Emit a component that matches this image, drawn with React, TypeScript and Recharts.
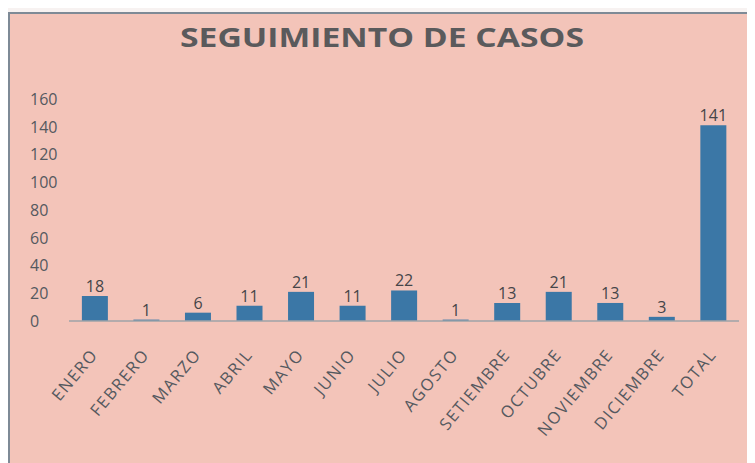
import React from 'react';
import { BarChart, Bar, XAxis, YAxis, LabelList } from 'recharts';

const categories = ['ENERO', 'FEBRERO', 'MARZO', 'ABRIL', 'MAYO', 'JUNIO', 'JULIO', 'AGOSTO', 'SETIEMBRE', 'OCTUBRE', 'NOVIEMBRE', 'DICIEMBRE', 'TOTAL'];
const casos = [18, 1, 6, 11, 21, 11, 22, 1, 13, 21, 13, 3, 141];
const yTicks = [0, 20, 40, 60, 80, 100, 120, 140, 160];
const title = 'SEGUIMIENTO DE CASOS';

const data = categories.map((mes, i) => ({ mes, casos: casos[i] }));

const FONT = '"Open Sans", sans-serif';
const TEXT = '#55595f';

const XTick = (props: any) => {
  const { x, y, payload } = props;
  return (
    <g transform={`translate(${x + 4},${y + 26})`}>
      <text x={0} y={0} transform="rotate(-50)" textAnchor="end" fill={TEXT} fontSize={16.5} letterSpacing={1.5} fontFamily={FONT}>
        {payload.value}
      </text>
    </g>
  );
};

const YTick = (props: any) => {
  const { x, y, payload } = props;
  return (
    <text x={x - 31} y={y} dy="0.36em" textAnchor="start" fill={TEXT} fontSize={16} fontFamily={FONT}>
      {payload.value}
    </text>
  );
};

export default function App() {
  return (
    <div style={{ position: 'relative', width: 747, height: 455, overflow: 'hidden', background: '#F7F2F1' }}>
      <div
        style={{
          position: 'absolute',
          left: 0,
          top: 4,
          width: 800,
          height: 500,
          background: '#F3C4B9',
          borderTop: '2px solid #7e8a96',
          borderLeft: '2px solid #7e8a96',
        }}
      />
      <svg width={747} height={455} style={{ position: 'absolute', left: 0, top: 0 }}>
        <text
          x={374}
          y={39}
          textAnchor="middle"
          fontFamily={FONT}
          fontWeight={700}
          fontSize={27}
          fill="#5a5a5c"
          textLength={404}
          lengthAdjust="spacingAndGlyphs"
        >
          {title}
        </text>
      </svg>
      <div style={{ position: 'absolute', left: 0, top: 0 }}>
        <BarChart
          width={747}
          height={455}
          data={data}
          margin={{ top: 91, right: 16, bottom: 32, left: 0 }}
          barCategoryGap="25%"
        >
          <XAxis
            dataKey="mes"
            interval={0}
            height={110}
            axisLine={{ stroke: '#9ea3a8', strokeWidth: 1.5 }}
            tickLine={false}
            tick={<XTick />}
          />
          <YAxis
            width={61}
            domain={[0, 160]}
            ticks={yTicks}
            axisLine={false}
            tickLine={false}
            tick={<YTick />}
          />
          <Bar dataKey="casos" fill="#3b77a6" isAnimationActive={false}>
            <LabelList dataKey="casos" position="top" offset={4} fill="#454548" fontSize={16} fontFamily={FONT} />
          </Bar>
        </BarChart>
      </div>
    </div>
  );
}
